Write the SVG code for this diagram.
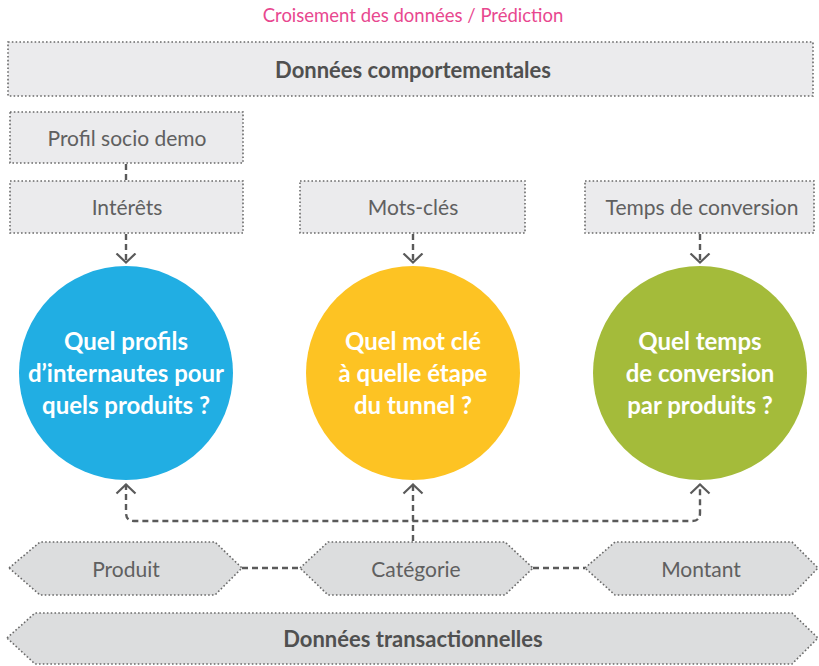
<svg xmlns="http://www.w3.org/2000/svg" width="819" height="666" viewBox="0 0 819 666">
<defs>
<marker id="chev" viewBox="0 0 12 22" refX="10.5" refY="11" markerWidth="12" markerHeight="22" markerUnits="userSpaceOnUse" orient="auto-start-reverse">
<path d="M1 1.5 L10 11 L1 20.5" fill="none" stroke="#5a5a5a" stroke-width="2.2"/>
</marker>
<style>
.box{fill:#EBEBED;stroke:#6a6a6a;stroke-width:1.6;stroke-dasharray:1.6 2.2}
.hex{fill:#DCDDDE;stroke:#6a6a6a;stroke-width:1.6;stroke-dasharray:1.6 2.2}
.lbl{font-family:Lato,"Liberation Sans",sans-serif;font-size:21px;fill:#606060;text-anchor:middle;dominant-baseline:central}
.bold{font-weight:bold;fill:#505050;font-size:22px}
.q{font-family:Lato,"Liberation Sans",sans-serif;font-size:24px;font-weight:bold;fill:#fff;text-anchor:middle}
.con{fill:none;stroke:#5a5a5a;stroke-width:2.4;stroke-dasharray:6 4}
</style>
</defs>
<text x="413" y="15" font-family="Lato,'Liberation Sans',sans-serif" font-size="18.5" fill="#E8478F" text-anchor="middle" dominant-baseline="central">Croisement des données / Prédiction</text>

<g id="connectors">
<line class="con" x1="126" y1="164" x2="126" y2="181"/>
<line class="con" x1="126" y1="234" x2="126" y2="263" marker-end="url(#chev)"/>
<line class="con" x1="413" y1="234" x2="413" y2="263" marker-end="url(#chev)"/>
<line class="con" x1="700" y1="234" x2="700" y2="263" marker-end="url(#chev)"/>
<path class="con" d="M126 484 L126 513 Q126 521 134 521 L692 521 Q700 521 700 513 L700 484" marker-start="url(#chev)" marker-end="url(#chev)"/>
<line class="con" x1="413" y1="541" x2="413" y2="484" marker-end="url(#chev)"/>
<line class="con" x1="242" y1="568" x2="300" y2="568"/>
<line class="con" x1="533" y1="568" x2="585" y2="568"/>
</g>

<g id="comportementales">
<rect class="box" x="8" y="42" width="805" height="54"/>
<text class="lbl bold" x="413" y="69">Données comportementales</text>
</g>
<g id="profil">
<rect class="box" x="10" y="112" width="233" height="51"/>
<text class="lbl" x="127" y="137">Profil socio demo</text>
</g>
<g id="interets">
<rect class="box" x="10" y="181" width="233" height="52"/>
<text class="lbl" x="127" y="206">Intérêts</text>
</g>
<g id="motscles">
<rect class="box" x="300" y="181" width="225" height="52"/>
<text class="lbl" x="413" y="206">Mots-clés</text>
</g>
<g id="temps">
<rect class="box" x="585" y="181" width="229" height="52"/>
<text class="lbl" x="702" y="206">Temps de conversion</text>
</g>

<g id="q1">
<circle cx="126" cy="373" r="107" fill="#21AEE3"/>
<text class="q" x="126" y="350">Quel profils</text>
<text class="q" x="126" y="382">d’internautes pour</text>
<text class="q" x="126" y="414">quels produits ?</text>
</g>
<g id="q2">
<circle cx="413" cy="373" r="107" fill="#FDC323"/>
<text class="q" x="413" y="350">Quel mot clé</text>
<text class="q" x="413" y="382">à quelle étape</text>
<text class="q" x="413" y="414">du tunnel ?</text>
</g>
<g id="q3">
<circle cx="700" cy="373" r="107" fill="#A4BB3A"/>
<text class="q" x="700" y="350">Quel temps</text>
<text class="q" x="700" y="382">de conversion</text>
<text class="q" x="700" y="414">par produits ?</text>
</g>

<g id="produit">
<polygon class="hex" points="9,568 40,542 215,542 242,568 215,595 40,595"/>
<text class="lbl" x="126" y="568">Produit</text>
</g>
<g id="categorie">
<polygon class="hex" points="300,568 328,542 505,542 533,568 505,595 328,595"/>
<text class="lbl" x="416" y="568">Catégorie</text>
</g>
<g id="montant">
<polygon class="hex" points="585,568 615,542 792,542 818,568 792,595 615,595"/>
<text class="lbl" x="701" y="568">Montant</text>
</g>
<g id="transactionnelles">
<polygon class="hex" points="7,638 35,613 792,613 818,638 792,664 35,664"/>
<text class="lbl bold" x="413" y="638">Données transactionnelles</text>
</g>
</svg>
